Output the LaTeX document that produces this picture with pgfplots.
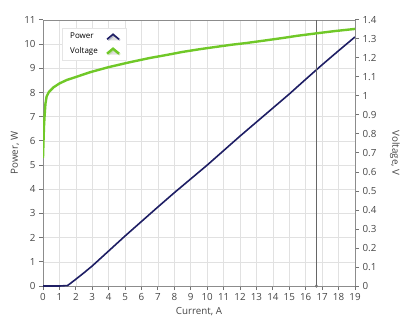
\documentclass[border=0pt]{standalone}
\usepackage{pgfplots}
\pgfplotsset{compat=1.18}
\usepackage{fontspec}
\setmainfont{Open Sans}
\usetikzlibrary{shadows}
\definecolor{navy}{RGB}{30,30,100}
\definecolor{lgreen}{RGB}{112,200,40}
\definecolor{axgray}{RGB}{140,140,140}
\definecolor{tickgray}{RGB}{115,115,115}
\definecolor{gridgray}{RGB}{225,225,225}
\definecolor{txt}{RGB}{70,70,70}
\pgfplotsset{chevron/.style={legend image code/.code={\draw[##1] (0pt,-2.5pt) -- (6pt,2.5pt) -- (12pt,-2.5pt);}}}
\begin{document}
\begin{tikzpicture}
\pgfplotsset{
 common/.style={
  scale only axis, width=312pt, height=266pt,
  xmin=0, xmax=19, xtick={0,...,19},
  /pgf/number format/assume math mode=true,
  tick label style={font=\fontsize{9.8}{11}\selectfont, text=txt},
  label style={font=\fontsize{9.8}{11}\selectfont, text=txt},
  axis line style={axgray, line width=0.8pt},
  tick align=outside, major tick length=4pt,
  tick style={tickgray, line width=1pt},
 }
}
\begin{axis}[common,
  ymin=0, ymax=11, ytick={0,...,11},
  xtick pos=bottom, ytick pos=left,
  xmajorgrids, ymajorgrids, grid style={draw=gridgray, line width=0.6pt},
  xlabel={Current, A}, ylabel={Power, W},
  xlabel style={at={(axis description cs:0.5,-0.098)}, anchor=center},
  ylabel style={at={(axis description cs:-0.09,0.5)}, anchor=center},
]
\addplot[navy, line width=1.6pt] coordinates {
(0,0) (1,0) (1.5,0.02) (2,0.28) (2.5,0.55) (3,0.83) (4,1.45) (5,2.07) (6,2.67) (7,3.27) (8,3.86) (9,4.43) (10,5.0) (11,5.6) (12,6.2) (13,6.78) (14,7.36) (15,7.94) (16,8.55) (17,9.15) (18,9.73) (19,10.3)};
\addplot[gray!80!black, line width=0.8pt] coordinates {(16.65,0) (16.65,11)};
\addplot[only marks, mark=diamond, mark size=1.5pt, gray!80!black] coordinates {(16.65,0)};
\end{axis}
\begin{axis}[common,
  ymin=0, ymax=1.4, ytick={0,0.1,0.2,0.3,0.4,0.5,0.6,0.7,0.8,0.9,1,1.1,1.2,1.3,1.4},
  axis y line*=right, axis x line=none,
  ylabel={Voltage, V},
  ylabel style={at={(axis description cs:1.128,0.5)}, anchor=center, rotate=180},
  legend plot pos=right,
  legend style={at={(axis description cs:0.061,0.97)}, anchor=north west,
    font=\fontsize{8}{9.5}\selectfont, draw=gray!20, fill=white,
    drop shadow={opacity=0.25, shadow xshift=1pt, shadow yshift=-1pt},
    cells={anchor=west}, row sep=3pt, column sep=6pt, inner xsep=6pt, inner ysep=3pt},
]
\addlegendimage{navy, line width=1.6pt, chevron}
\addlegendentry{Power}
\addplot[lgreen, line width=2.4pt, chevron] coordinates {
(0,0.675) (0.03,0.76) (0.06,0.84) (0.1,0.9) (0.15,0.96) (0.22,0.997) (0.35,1.02) (0.63,1.045) (1.0,1.066) (1.44,1.084) (2.0,1.100) (2.86,1.125) (4.0,1.152) (5.3,1.178) (6.5,1.200) (7.53,1.216) (8.5,1.232) (9.52,1.246) (10.5,1.258) (11.5,1.270) (12.4,1.279) (13.5,1.292) (14.5,1.304) (15.5,1.317) (16.67,1.330) (17.8,1.342) (19,1.353)};
\addlegendentry{Voltage}
\end{axis}
\pgfresetboundingbox
\path (-43pt,-43pt) rectangle (368pt,286pt);
\end{tikzpicture}
\end{document}
